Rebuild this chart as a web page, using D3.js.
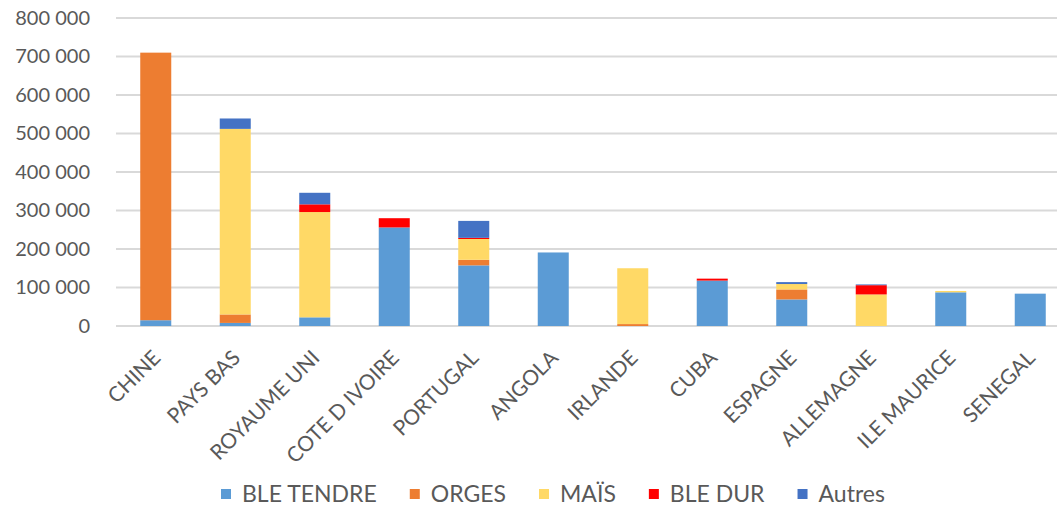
<!DOCTYPE html>
<html lang="fr">
  <head>
    <meta charset="UTF-8" />
    <title>Exportations de céréales</title>
    <script src="https://d3js.org/d3.v7.min.js"></script>
    <style>
      body { margin: 0; background: #fff; }
      text { font-family: Lato, "Open Sans", sans-serif; fill: #595959; }
    </style>
  </head>
  <body>
    <div id="chart"></div>
    <script>
      // pays (axe x)
      var pays = ["CHINE", "PAYS BAS", "ROYAUME UNI", "COTE D IVOIRE", "PORTUGAL", "ANGOLA",
        "IRLANDE", "CUBA", "ESPAGNE", "ALLEMAGNE", "ILE MAURICE", "SENEGAL"];

      // series (tonnes)
      var bleTendre = [15000, 8000, 22500, 256000, 157500, 191000, 0, 118000, 69000, 0, 87500, 84000];
      var orges     = [695000, 22000, 0, 0, 14500, 0, 5000, 0, 26000, 0, 0, 0];
      var mais      = [0, 482000, 273500, 0, 54000, 0, 145000, 0, 14000, 82000, 3500, 0];
      var bleDur    = [0, 0, 20000, 24000, 3000, 0, 0, 5000, 0, 24000, 0, 0];
      var autres    = [0, 27000, 30000, 0, 44000, 0, 0, 0, 5000, 2000, 0, 0];

      var series = ["BLE TENDRE", "ORGES", "MAÏS", "BLE DUR", "Autres"];
      var couleurs = ["#5B9BD5", "#ED7D31", "#FFD966", "#FF0000", "#4472C4"];
      var yTicks = [0, 100000, 200000, 300000, 400000, 500000, 600000, 700000, 800000];

      var valeurs = [bleTendre, orges, mais, bleDur, autres];
      var table = pays.map(function (p, i) {
        var row = { pays: p };
        series.forEach(function (s, k) { row[s] = valeurs[k][i]; });
        return row;
      });

      var w = 1057, h = 509;
      var svg = d3.select("#chart").append("svg")
        .attr("width", w).attr("height", h);

      var x = d3.scaleBand().domain(pays).range([116, 1070])
        .paddingInner(0.61).paddingOuter(0.305);
      var y = d3.scaleLinear().domain([0, 800000]).range([326, 18]);

      var fmt = function (d) { return d3.format(",")(d).replace(/,/g, " "); };

      // grille
      svg.append("g").selectAll("line")
        .data(yTicks)
        .enter().append("line")
        .attr("x1", 116).attr("x2", 1070)
        .attr("y1", function (d) { return y(d); })
        .attr("y2", function (d) { return y(d); })
        .attr("stroke", "#d9d9d9").attr("stroke-width", 2);

      // axe y
      var yAxis = svg.append("g")
        .attr("transform", "translate(96,0)")
        .call(d3.axisLeft(y).tickValues(yTicks).tickFormat(fmt).tickSize(0).tickPadding(6));
      yAxis.select(".domain").remove();
      yAxis.selectAll("text").style("font-size", "20px").attr("fill", "#595959");

      // barres empilees
      var stack = d3.stack().keys(series)(table);
      svg.append("g").selectAll("g")
        .data(stack)
        .enter().append("g")
        .attr("fill", function (d, i) { return couleurs[i]; })
        .selectAll("rect")
        .data(function (d) { return d; })
        .enter().append("rect")
        .attr("x", function (d) { return x(d.data.pays); })
        .attr("width", x.bandwidth())
        .attr("y", function (d) { return y(d[1]); })
        .attr("height", function (d) { return y(d[0]) - y(d[1]); });

      // etiquettes x
      svg.append("g").selectAll("text")
        .data(pays)
        .enter().append("text")
        .attr("transform", function (d) {
          return "translate(" + (x(d) + x.bandwidth() / 2 + 1) + ",354) rotate(-45)";
        })
        .attr("text-anchor", "end")
        .attr("dy", "0.35em")
        .style("font-size", "21px")
        .text(function (d) { return d; });

      // legende
      var leg = svg.append("g").attr("transform", "translate(221,494)");
      var pos = 0;
      series.forEach(function (s, i) {
        var g = leg.append("g").attr("transform", "translate(" + pos + ",0)");
        g.append("rect").attr("x", 0).attr("y", -5).attr("width", 10).attr("height", 10)
          .attr("fill", couleurs[i]);
        var t = g.append("text").attr("x", 21).attr("dy", "0.36em")
          .style("font-size", "23px").text(s);
        pos += 21 + t.node().getComputedTextLength() + 33;
      });
    </script>
  </body>
</html>
